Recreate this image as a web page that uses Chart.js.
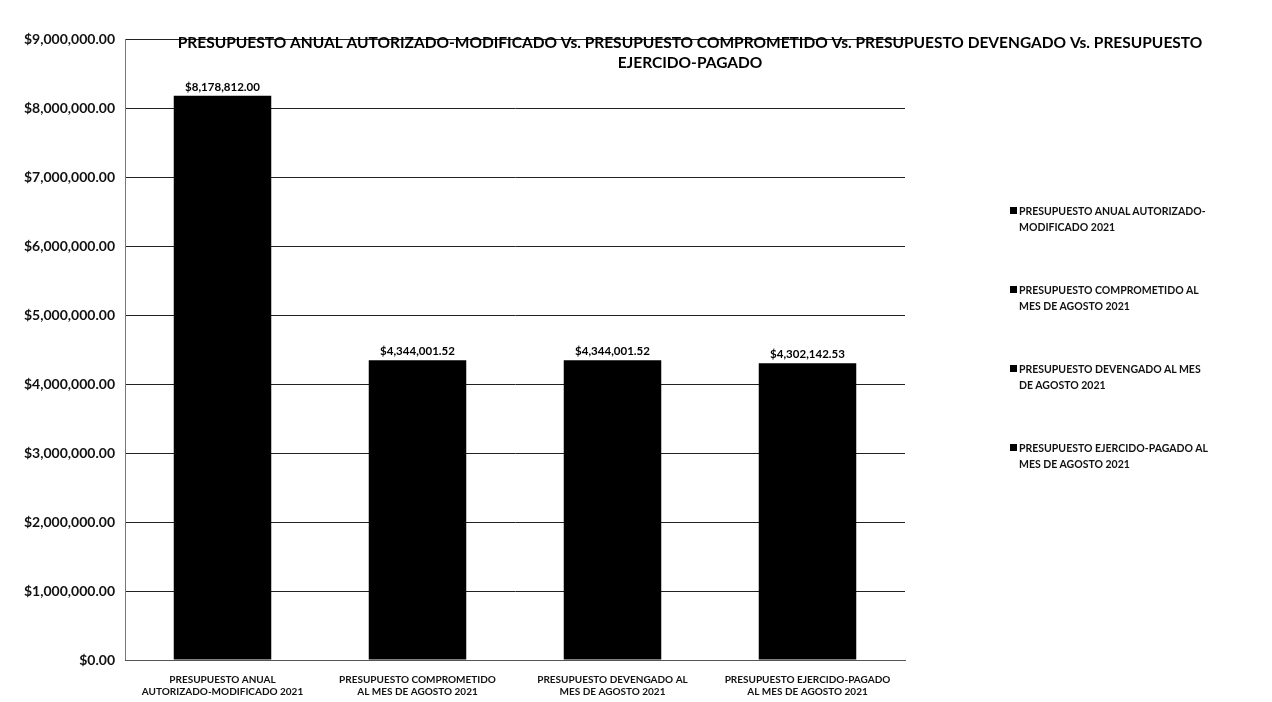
<!DOCTYPE html>
<html>
<head>
<meta charset="utf-8">
<script src="https://cdn.jsdelivr.net/npm/chart.js@4.4.0/dist/chart.umd.min.js"></script>
<style>
    html, body { margin: 0; padding: 0; background: #fff; }
    #wrap { position: relative; width: 1272px; height: 702px; }
    #legend {
        position: absolute; left: 1010px; top: 203px;
        font-family: Lato, 'Open Sans', sans-serif; font-weight: bold; font-size: 10.5px;
        color: #111; line-height: 16px;
    }
    .item { position: relative; padding-left: 9px; width: 250px; height: 79px; }
    .item span.sq { position: absolute; left: 0; top: 4px; width: 7px; height: 7px; background: #000; }
</style>
</head>
<body>
<div id="wrap">
    <canvas id="chart" width="1272" height="702"></canvas>
    <div id="legend"></div>
</div>
<script>
// categorías (eje X, en dos líneas) y valores
const categorias = [
    ['PRESUPUESTO ANUAL', 'AUTORIZADO-MODIFICADO 2021'],
    ['PRESUPUESTO COMPROMETIDO', 'AL MES DE AGOSTO 2021'],
    ['PRESUPUESTO DEVENGADO AL', 'MES DE AGOSTO 2021'],
    ['PRESUPUESTO EJERCIDO-PAGADO', 'AL MES DE AGOSTO 2021']
];
const leyenda = [
    ['PRESUPUESTO ANUAL AUTORIZADO-', 'MODIFICADO 2021'],
    ['PRESUPUESTO COMPROMETIDO AL', 'MES DE AGOSTO 2021'],
    ['PRESUPUESTO DEVENGADO AL MES', 'DE AGOSTO 2021'],
    ['PRESUPUESTO EJERCIDO-PAGADO AL', 'MES DE AGOSTO 2021']
];
const valores = [8178812.00, 4344001.52, 4344001.52, 4302142.53];
const tituloLineas = [
    'PRESUPUESTO ANUAL AUTORIZADO-MODIFICADO Vs. PRESUPUESTO COMPROMETIDO Vs. PRESUPUESTO DEVENGADO Vs. PRESUPUESTO',
    'EJERCIDO-PAGADO'
];

const FONT = 'Lato, "Open Sans", sans-serif';

function moneda(v) {
    return '$' + v.toLocaleString('en-US', { minimumFractionDigits: 2, maximumFractionDigits: 2 });
}

// leyenda en HTML (texto en dos líneas)
const legendEl = document.getElementById('legend');
leyenda.forEach(l => {
    const d = document.createElement('div');
    d.className = 'item';
    d.innerHTML = '<span class="sq"></span>' + l[0] + '<br>' + l[1];
    legendEl.appendChild(d);
});

// título y etiquetas de datos
const extras = {
    id: 'extras',
    afterDatasetsDraw(chart) {
        const ctx = chart.ctx;
        ctx.save();
        ctx.fillStyle = '#000';
        ctx.textAlign = 'center';
        ctx.textBaseline = 'bottom';
        ctx.font = 'bold 11.5px ' + FONT;
        chart.getDatasetMeta(0).data.forEach((bar, i) => {
            ctx.fillText(moneda(valores[i]), bar.x, bar.y - 3);
        });
        ctx.font = 'bold 15.5px ' + FONT;
        ctx.textBaseline = 'middle';
        ctx.fillText(tituloLineas[0], 690, 43);
        ctx.fillText(tituloLineas[1], 690, 63);
        ctx.restore();
    }
};

new Chart(document.getElementById('chart'), {
    type: 'bar',
    data: {
        labels: categorias,
        datasets: [{
            data: valores,
            backgroundColor: '#000',
            borderWidth: 0,
            barPercentage: 0.5,
            categoryPercentage: 1
        }]
    },
    options: {
        responsive: false,
        animation: false,
        layout: { padding: { left: 0, right: 367, top: 39, bottom: 0 } },
        plugins: {
            legend: { display: false },
            title: { display: false },
            tooltip: { enabled: false }
        },
        scales: {
            y: {
                min: 0,
                max: 9000000,
                ticks: {
                    stepSize: 1000000,
                    color: '#111',
                    padding: 10,
                    font: { family: FONT, size: 14, weight: 'bold' },
                    callback: v => moneda(v)
                },
                grid: { color: '#222', lineWidth: 1, drawTicks: false },
                border: { color: '#777' },
                afterFit: s => { s.width = 125; }
            },
            x: {
                ticks: {
                    color: '#111',
                    padding: 6,
                    maxRotation: 0,
                    font: { family: FONT, size: 10, weight: 'bold' }
                },
                grid: { display: false },
                border: { color: '#555' },
                afterFit: s => { s.height = 42; }
            }
        }
    },
    plugins: [extras]
});
</script>
</body>
</html>
